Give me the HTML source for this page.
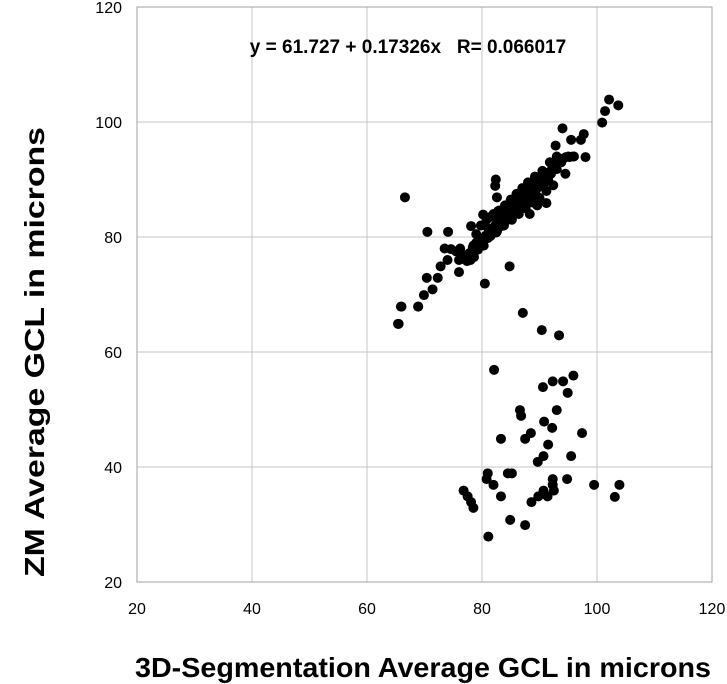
<!DOCTYPE html>
<html><head><meta charset="utf-8"><style>
html,body{margin:0;padding:0;background:#fff;}
svg{display:block;font-family:"Liberation Sans",Arial,sans-serif;}
</style></head><body>
<svg id="chart" width="727" height="684">
<g id="grid"></g>
<g id="axes"></g>
<g id="points"></g>
<text x="408" y="53" text-anchor="middle" font-size="19" font-weight="bold">y = 61.727 + 0.17326x&#160;&#160;&#160;R= 0.066017</text>
<text x="135" y="677" font-size="28" font-weight="bold" textLength="576" lengthAdjust="spacingAndGlyphs">3D-Segmentation Average GCL in microns</text>
<text transform="translate(44,577) rotate(-90)" font-size="28" font-weight="bold" textLength="450" lengthAdjust="spacingAndGlyphs">ZM Average GCL in microns</text>
</svg>
<script>
const xTicks=[20,40,60,80,100,120];
const yTicks=[20,40,60,80,100,120];
const xVals=[65.9,68.9,65.5,87.1,90.4,93.4,82.1,95.9,92.3,94.1,90.6,94.9,86.6,86.8,93.0,90.8,92.2,97.4,83.3,87.5,88.5,91.5,90.7,95.5,89.7,81.0,80.8,82.0,84.5,85.2,92.3,94.8,99.5,103.9,103.1,76.8,77.5,78.1,78.5,83.3,88.6,89.8,90.7,91.4,92.5,92.3,84.9,87.5,81.1,
102.1,103.7,101.4,100.9,94.0,97.7,97.2,95.5,92.8,98.0,66.6,82.4,82.3,82.6,91.2,70.5,74.1,78.1,80.2,84.8,76.0,80.5,72.8,70.4,72.3,71.4,69.9,66.0,68.9,65.4,
74.6,75.5,76.2,77.0,77.8,78.4,79.0,79.5,80.0,80.6,81.2,81.8,82.3,82.9,83.5,84.0,84.6,85.2,85.8,86.3,86.9,87.5,88.1,88.6,89.2,89.8,90.4,91.0,91.6,92.2,92.8,93.4,94.0,94.6,95.2,95.8,
76.5,77.4,78.6,79.3,80.3,81.0,81.5,82.5,83.2,83.8,84.4,85.0,85.6,86.2,86.8,87.4,88.0,88.8,89.4,90.0,90.8,91.5,92.0,93.0,79.8,80.8,82.0,83.0,84.2,85.4,86.6,87.8,89.0,90.2,91.4,92.6,93.8,95.0,96.0,74.0,73.5,76.0,78.0,88.3,89.6,
79.0,80.5,81.5,82.8,84.0,85.0,86.0,87.0,88.0,89.2,90.5,91.8,93.0,78.5,80.0,81.2,82.6,83.8,85.2,86.4,87.6,88.8,90.0,91.2,92.4,94.5];
const yVals=[67.9,67.9,64.9,66.8,63.8,62.9,56.9,55.9,54.9,54.9,53.9,52.9,49.9,48.9,49.9,47.9,46.8,45.9,44.9,44.9,45.9,43.9,41.9,41.9,40.9,38.9,37.9,36.9,38.9,38.9,37.9,37.9,36.9,36.9,34.8,35.9,34.9,33.9,32.9,34.9,33.9,34.9,35.9,34.9,35.9,36.9,30.8,29.9,27.9,
103.9,102.9,101.9,99.9,98.9,97.9,96.9,96.9,95.9,93.9,86.9,90.0,88.9,86.9,85.9,80.9,80.9,81.9,83.9,74.9,73.9,71.9,74.9,72.9,72.9,70.9,69.9,67.9,67.9,64.9,
77.9,77.5,78.0,76.8,77.2,78.2,79.0,78.6,79.6,80.2,81.0,81.5,82.0,82.8,83.2,84.0,84.5,85.0,85.8,86.2,86.8,87.2,88.0,88.5,89.0,89.5,90.0,90.8,91.2,92.0,92.5,93.0,93.6,93.9,93.9,94.0,
76.2,75.8,76.5,77.8,78.5,79.8,80.2,80.8,81.8,82.0,83.0,83.6,84.2,84.8,85.6,86.0,86.6,87.5,88.2,88.8,89.4,90.0,91.0,91.8,82.0,83.0,84.0,84.6,85.5,86.5,87.5,88.0,89.0,89.8,91.0,92.2,93.0,94.0,94.0,76.0,78.0,76.0,76.0,84.0,85.5,
80.5,82.0,83.5,84.5,85.5,86.5,87.5,88.5,89.5,90.5,91.5,93.0,94.0,78.5,79.0,80.0,81.0,82.0,83.0,84.0,85.0,86.0,86.8,88.0,89.0,91.0];
const NS='http://www.w3.org/2000/svg';
const X0=137,X1=712,Y0=582,Y1=7;
function sx(v){return X0+(v-20)/100*(X1-X0);}
function sy(v){return Y0-(v-20)/100*(Y0-Y1);}
function mk(tag,attrs,parent){const e=document.createElementNS(NS,tag);for(const k in attrs)e.setAttribute(k,attrs[k]);parent.appendChild(e);return e;}
const grid=document.getElementById('grid'),axes=document.getElementById('axes'),pts=document.getElementById('points');
xTicks.forEach(t=>{
 const l=mk('line',{x1:sx(t),x2:sx(t),y1:Y1,y2:Y0,stroke:'#c4c4c4','stroke-width':1},grid);
 
 
 const tx=mk('text',{x:sx(t),y:Y0+32,'text-anchor':'middle','font-size':16},axes);
 tx.textContent=t;
 
 
});
yTicks.forEach(t=>{
 const l=mk('line',{x1:X0,x2:X1,y1:sy(t),y2:sy(t),stroke:'#c4c4c4','stroke-width':1},grid);
 
 
 const tx=mk('text',{x:X0-15,y:sy(t)+6,'text-anchor':'end','font-size':16},axes);
 tx.textContent=t;
 
 
});
const fr=mk('rect',{x:X0,y:Y1,width:X1-X0,height:Y0-Y1,fill:'none',stroke:'#a0a0a0','stroke-width':1},axes);


xVals.forEach((v,i)=>{
 const c=mk('circle',{cx:sx(v),cy:sy(yVals[i]),r:5,fill:'#000'},pts);
 
 
});
</script>
</body></html>
